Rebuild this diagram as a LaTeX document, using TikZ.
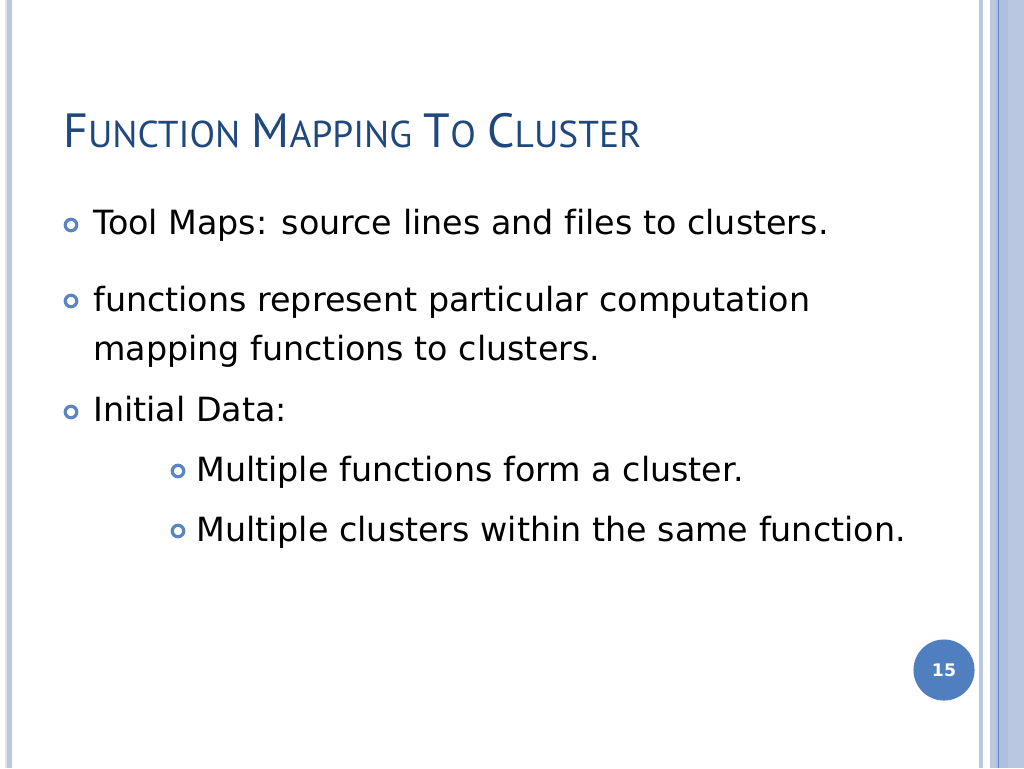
\documentclass[tikz,border=0pt]{standalone}
\usepackage{fontspec}
\setmainfont[Ligatures=CommonOff]{DejaVu Sans}
\newfontfamily\titlefont{PT Sans}
\definecolor{titleblue}{HTML}{1F497D}
\definecolor{bulletblue}{HTML}{5A84C2}
\definecolor{stripe}{HTML}{B9C7E1}
\definecolor{stripelight}{HTML}{DCE4F2}
\definecolor{stripedark}{HTML}{6384BC}
\definecolor{stripemid}{HTML}{B0C0DC}
\definecolor{numblue}{HTML}{4F7FBE}
\newcommand{\bigc}[1]{{\fontsize{36}{40}\selectfont #1}}
\newcommand{\smc}[1]{{\fontsize{28}{32}\selectfont #1}}
\begin{document}
\begin{tikzpicture}[x=0.75pt,y=-0.75pt,
  body/.style={anchor=base west, inner sep=0pt, font=\fontsize{25}{30}\selectfont, text=black},
  bul/.style={draw=bulletblue, line width=2.4pt}]
\useasboundingbox (0,0) rectangle (1024,768);
\fill[white] (0,0) rectangle (1024,768);
% left border
\fill[stripelight] (5,0) rectangle (7.3,768);
\fill[stripe] (7.3,0) rectangle (12,768);
% right border
\fill[stripe] (979,0) rectangle (983,768);
\fill[stripe] (990,0) rectangle (1024,768);
\fill[stripemid] (996,0) rectangle (1007.7,768);
\fill[stripedark] (997.7,0) rectangle (998.8,768);
% title
\node[anchor=base west, inner sep=0pt, text=titleblue] (title) at (63,147)
  {\resizebox{433.5pt}{!}{\titlefont\fontsize{32}{36}\selectfont\bigc{F}\smc{UNCTION} \bigc{M}\smc{APPING} \bigc{T}\smc{O} \bigc{C}\smc{LUSTER}}};
% bullets
\draw[bul] (71,225) circle (4.3pt);
\draw[bul] (71,301) circle (4.3pt);
\draw[bul] (71,412) circle (4.3pt);
\draw[bul] (178,471) circle (4.3pt);
\draw[bul] (178,531) circle (4.3pt);
% body text
\node[body] (l1) at (93,234) {Tool Maps: source lines and files to clusters.};
\node[body] (l2) at (93,311) {functions represent particular computation};
\node[body] (l3) at (93,360) {mapping functions to clusters.};
\node[body] (l4) at (93,421) {Initial Data:};
\node[body] (l5) at (196,481) {Multiple functions form a cluster.};
\node[body] (l6) at (196,541) {Multiple clusters within the same function.};
% page number
\fill[numblue] (944,670) circle (22.9pt);
\node[text=white, font=\fontsize{13}{15}\bfseries\selectfont, inner sep=0pt] (num) at (944,670) {15};
\end{tikzpicture}
\end{document}
